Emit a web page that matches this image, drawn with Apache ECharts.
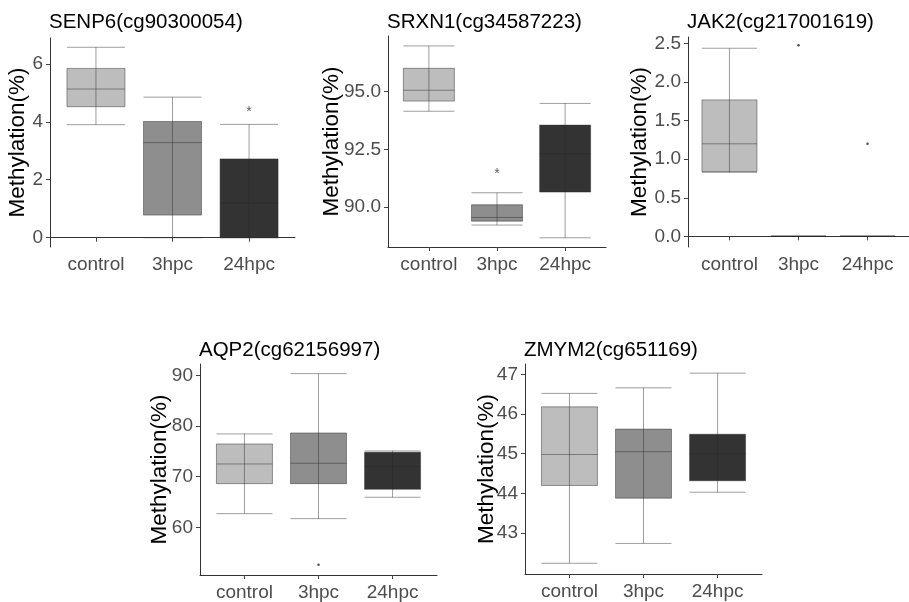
<!DOCTYPE html>
<html>
<head>
<meta charset="utf-8">
<script src="https://cdn.jsdelivr.net/npm/echarts@6/dist/echarts.min.js"></script>
<style>
html, body { margin: 0; padding: 0; background: #fff; }
#main { width: 909px; height: 602px; }
</style>
</head>
<body>
<div id="main"></div>
<script>
// groups on the x axis
var categories = ['control', '3hpc', '24hpc'];

// box values per group: [min, Q1, median, Q3, max]
var senp6Box = [[3.90, 4.52, 5.13, 5.84, 6.57], [0, 0.78, 3.28, 4.01, 4.85], [0, 0, 1.20, 2.72, 3.91]];
var srxn1Box = [[94.15, 94.59, 95.06, 96.01, 96.98], [89.22, 89.39, 89.55, 90.10, 90.62], [88.67, 90.65, 92.30, 93.55, 94.49]];
var jak2Box = [[0.83, 0.84, 1.20, 1.77, 2.44], [0, 0, 0, 0, 0], [0, 0, 0, 0, 0]];
var aqp2Box = [[62.70, 68.62, 72.50, 76.45, 78.43], [61.71, 68.62, 72.64, 78.62, 90.33], [65.93, 67.50, 72.00, 74.80, 75.07]];
var zmym2Box = [[42.24, 44.20, 44.98, 46.18, 46.52], [42.74, 43.88, 45.05, 45.62, 46.66], [44.03, 44.32, 45.00, 45.49, 47.03]];

// outlier points: [group number, value]
var jak2Outliers = [[2, 2.48], [3, 1.20]];
var aqp2Outliers = [[2, 52.6]];
// significance marks: [group number, value]
var senp6Stars = [[3, 4.32]];
var srxn1Stars = [[2, 91.42]];

// y tick labels
var senp6Ticks = [0, 2, 4, 6];
var srxn1Ticks = [90, 92.5, 95];
var jak2Ticks = [0, 0.5, 1, 1.5, 2, 2.5];
var aqp2Ticks = [60, 70, 80, 90];
var zmym2Ticks = [43, 44, 45, 46, 47];

var titles = ['SENP6(cg90300054)', 'SRXN1(cg34587223)', 'JAK2(cg217001619)', 'AQP2(cg62156997)', 'ZMYM2(cg651169)'];

// panel layout (pixels) and axis range
var panels = [
	{ box: senp6Box, ticks: senp6Ticks, outliers: [], stars: senp6Stars, dec: 0, left: 50, top: 38, width: 245, height: 209, ymin: -0.32, ymax: 6.89, boxW: 58, gap: 21 },
	{ box: srxn1Box, ticks: srxn1Ticks, outliers: [], stars: srxn1Stars, dec: 1, left: 388, top: 36, width: 218, height: 211, ymin: 88.27, ymax: 97.41, boxW: 51, gap: 45 },
	{ box: jak2Box, ticks: jak2Ticks, outliers: jak2Outliers, stars: [], dec: 1, left: 688, top: 37, width: 233, height: 210, ymin: -0.139, ymax: 2.586, boxW: 55, gap: 37 },
	{ box: aqp2Box, ticks: aqp2Ticks, outliers: aqp2Outliers, stars: [], dec: 0, left: 200, top: 364, width: 237, height: 211, ymin: 50.59, ymax: 92.23, boxW: 56, gap: 29 },
	{ box: zmym2Box, ticks: zmym2Ticks, outliers: [], stars: [], dec: 0, left: 525, top: 364, width: 237, height: 210, ymin: 41.97, ymax: 47.26, boxW: 56, gap: 27 }
];

var fills = ['#bdbdbd', '#8e8e8e', '#333333'];
var lineCol = 'rgba(40,40,40,0.45)';
var font = 'Liberation Sans, Arial, sans-serif';

var myChart = echarts.init(document.getElementById('main'));
var option = {
	backgroundColor: '#fff',
	animation: false,
	title: [],
	grid: [],
	xAxis: [],
	yAxis: [],
	series: []
};

panels.forEach(function(p, k) {
	option.title.push({
		text: titles[k],
		left: p.left - 1,
		top: k < 3 ? 12 : 340,
		padding: 0,
		textStyle: { fontFamily: font, fontSize: 20.5, fontWeight: 'normal', color: '#000' }
	});
	option.grid.push({ left: p.left, top: p.top, width: p.width, height: p.height, containLabel: false });
	option.xAxis.push({
		type: 'value',
		gridIndex: k,
		min: 0.4,
		max: 3.6,
		splitLine: { show: false },
		axisLine: { show: true, lineStyle: { color: '#333', width: 1 } },
		axisTick: { show: true, length: 4, customValues: [1, 2, 3], lineStyle: { color: '#444' } },
		axisLabel: {
			customValues: [1, 2, 3],
			margin: 8,
			color: '#4d4d4d',
			fontFamily: font,
			fontSize: 19,
			formatter: function(v) { return categories[Math.round(v) - 1]; }
		}
	});
	option.yAxis.push({
		type: 'value',
		gridIndex: k,
		min: p.ymin,
		max: p.ymax,
		name: 'Methylation(%)',
		nameLocation: 'middle',
		nameGap: p.gap,
		nameMoveOverlap: false,
		nameTextStyle: { fontFamily: font, fontSize: 22.5, color: '#000' },
		splitLine: { show: false },
		axisLine: { show: true, lineStyle: { color: '#333', width: 1 } },
		axisTick: { show: true, length: 4, customValues: p.ticks, lineStyle: { color: '#444' } },
		axisLabel: {
			customValues: p.ticks,
			margin: 7,
			color: '#4d4d4d',
			fontFamily: font,
			fontSize: 19,
			formatter: function(v) { return v.toFixed(p.dec); }
		}
	});

	var boxData = [], innerData = [];
	p.box.forEach(function(b, i) {
		var flat = b[0] === b[4];
		boxData.push({
			value: [i + 1].concat(b),
			itemStyle: { color: fills[i], borderColor: flat ? 'rgba(40,40,40,0.45)' : lineCol, borderWidth: 1 }
		});
		if (!flat) innerData.push([i + 1, b[1], b[3]]);
	});

	option.series.push({
		type: 'boxplot',
		xAxisIndex: k,
		yAxisIndex: k,
		boxWidth: [p.boxW, p.boxW],
		data: boxData
	});
	// whisker line continuing through the box
	option.series.push({
		type: 'custom',
		xAxisIndex: k,
		yAxisIndex: k,
		z: 5,
		encode: { x: 0, y: [1, 2] },
		renderItem: function(params, api) {
			var a = api.coord([api.value(0), api.value(1)]);
			var b = api.coord([api.value(0), api.value(2)]);
			return {
				type: 'line',
				shape: { x1: a[0], y1: a[1], x2: b[0], y2: b[1] },
				style: { stroke: lineCol, lineWidth: 1 }
			};
		},
		data: innerData
	});
	if (p.outliers.length) {
		option.series.push({
			type: 'scatter',
			xAxisIndex: k,
			yAxisIndex: k,
			symbolSize: 2.5,
			itemStyle: { color: '#222' },
			data: p.outliers
		});
	}
	if (p.stars.length) {
		option.series.push({
			type: 'scatter',
			xAxisIndex: k,
			yAxisIndex: k,
			symbolSize: 1,
			itemStyle: { color: 'rgba(0,0,0,0)' },
			label: {
				show: true,
				position: 'inside',
				formatter: '*',
				fontFamily: font,
				fontSize: 14,
				color: '#333'
			},
			data: p.stars
		});
	}
});

myChart.setOption(option);
</script>
</body>
</html>
